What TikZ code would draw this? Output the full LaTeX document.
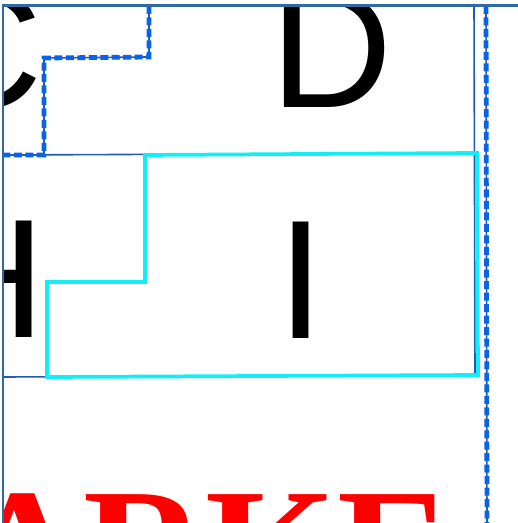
\documentclass[tikz,border=0pt]{standalone}
\usepackage{fontspec}
\setmainfont{Liberation Sans}
\newfontfamily\titlefont{Liberation Serif}

\definecolor{frameblue}{HTML}{2E6AA8}
\definecolor{gridblue}{HTML}{1F5BB8}
\definecolor{dashblue}{HTML}{0A62E8}
\definecolor{roomcyan}{HTML}{12EEF6}

\begin{document}
\begin{tikzpicture}[x=0.75pt, y=-0.75pt,
    frame/.style={draw=frameblue, line width=1.6pt},
    grid/.style={draw=gridblue, line width=1.2pt},
    room/.style={draw=roomcyan, line width=2.8pt, line join=miter},
    boundary/.style={draw=dashblue, line width=3.6pt, dash pattern=on 6pt off 2.6pt},
    letter/.style={inner sep=0pt, font=\fontsize{127}{127}\selectfont},
    banner/.style={inner sep=0pt, text=red, font=\titlefont\bfseries\fontsize{127}{127}\selectfont}]
    \useasboundingbox (0,0) rectangle (517,523);

    \begin{scope}
        \clip (3,6) rectangle (530,530);

        % cell lines
        \draw[grid] (3,155) -- (474,153);
        \draw[grid] (474,6) -- (475,376);
        \draw[grid] (3,377) -- (475,375);

        % room I
        \draw[room] (145,155) -- (477,153) -- (478,375) -- (47,377)
            -- (47,282) -- (145,282) -- cycle;

        % dashed boundaries
        \draw[grid] (149,6) -- (149,57) -- (44,58) -- (44,155) -- (3,155);
        \draw[boundary] (149,6) -- (149,57) -- (44,58) -- (44,155) -- (3,155);
        \draw[grid] (486,6) -- (487,530);
        \draw[boundary] (486,6) -- (487,530);

        % labels
        \node[letter, anchor=base east] (c) at (43,108) {C};
        \node[letter, anchor=base] (d) at (332,108) {D};
        \node[letter, anchor=base east] (h) at (46,337) {H};
        \node[letter, anchor=base] (i) at (301.5,338) {I};
        \node[banner, anchor=base west] (name) at (-39,605) {ARKE};
    \end{scope}

    \draw[frame] (3,530) -- (3,5.5) -- (530,5.5);
\end{tikzpicture}
\end{document}
